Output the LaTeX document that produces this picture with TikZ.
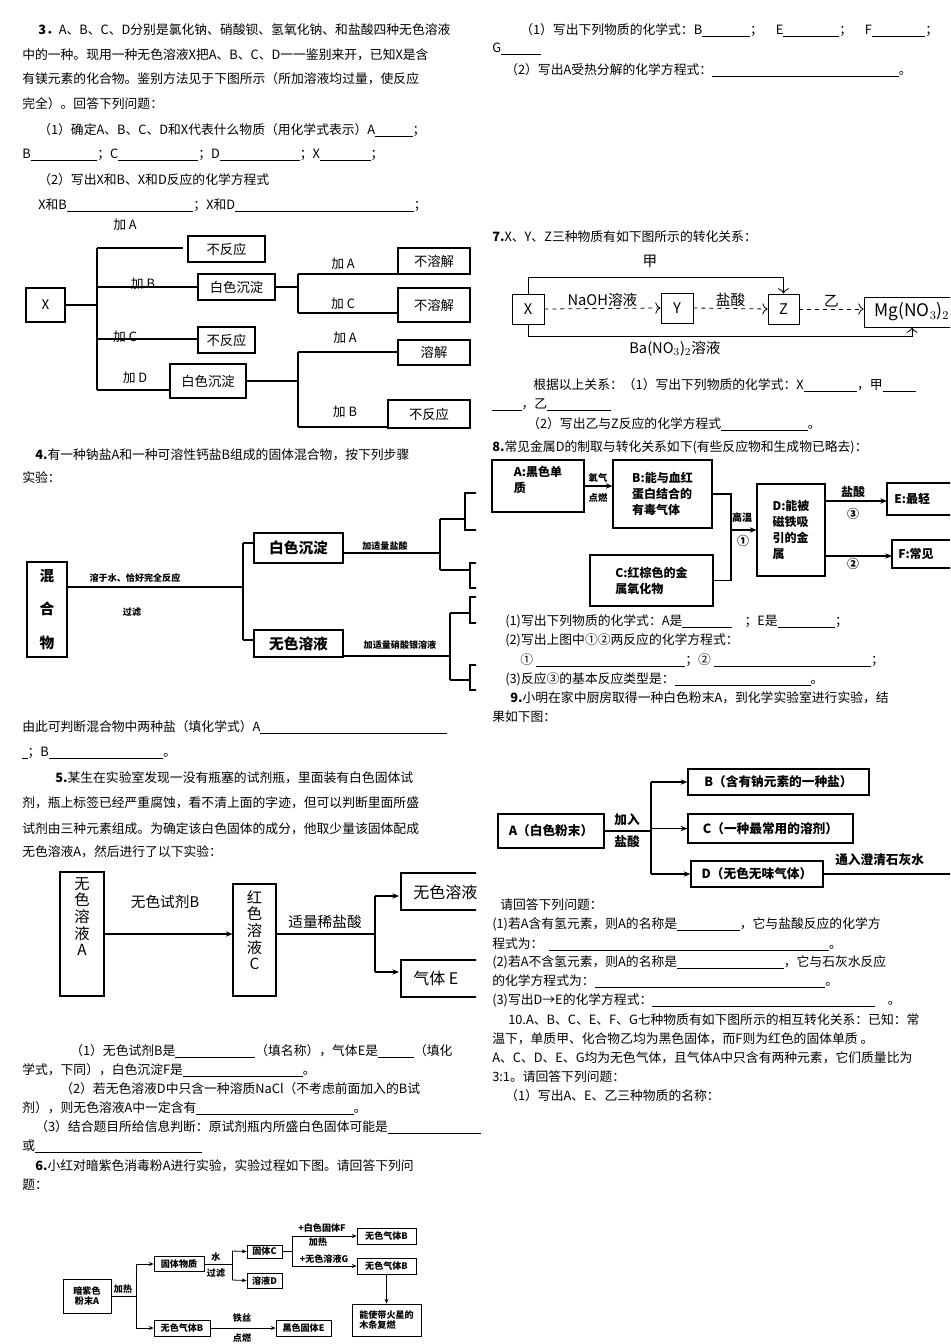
\documentclass[tikz,border=0pt]{standalone}
\usepackage{fontspec}
\setmainfont{Noto Sans CJK SC}
\usetikzlibrary{arrows.meta}
\newcommand\fs{\fontsize{9.6}{11}\selectfont}
\newcommand\fsd{\fontsize{6.8}{8}\selectfont}
\newcommand\bl[1]{\rule[-1.5pt]{#1pt}{0.5pt}}
\tikzset{
 txt/.style={anchor=west,inner sep=0pt,font=\fs},
 bx/.style={draw,line width=0.8pt,inner sep=1pt,align=center},
 lab/.style={inner sep=0pt,font=\fs},
 slab/.style={inner sep=0pt,font=\fsd\bfseries},
 ln/.style={line width=0.8pt},
 arr/.style={line width=0.8pt,-{Stealth[length=5pt,width=4pt]}},
 sarr/.style={line width=0.6pt,-{Stealth[length=3.5pt,width=3pt]}},
}
\begin{document}
\begin{tikzpicture}[x=0.75pt,y=-0.75pt]
\useasboundingbox (0,0) rectangle (950,1344);
\clip (0,0) rectangle (950,1344);
% ---------------- left column text
\node[txt] (t1) at (38,30) {\textbf{3．}A、B、C、D分别是氯化钠、硝酸钡、氢氧化钠、和盐酸四种无色溶液};
\node[txt] (t2) at (22,55) {中的一种。现用一种无色溶液X把A、B、C、D一一鉴别来开，已知X是含};
\node[txt] (t3) at (22,79) {有镁元素的化合物。鉴别方法见于下图所示（所加溶液均过量，使反应};
\node[txt] (t4) at (22,104) {完全）。回答下列问题：};
\node[txt] (t5) at (38,130) {（1）确定A、B、C、D和X代表什么物质（用化学式表示）A\bl{28}；};
\node[txt] (t6) at (22,155) {B\bl{50}；C\bl{60}；D\bl{60}；X\bl{38}；};
\node[txt] (t7) at (38,180) {（2）写出X和B、X和D反应的化学方程式};
\node[txt] (t8) at (38,205) {X和B\bl{95}；X和D\bl{134}；};
% ---------------- diagram 3
\begin{scope}
\clip (0,200) rectangle (476,440);
\node[bx,minimum width=57.75pt,minimum height=19.5pt] (n1) at (226.5,249) {不反应};
\node[bx,minimum width=57.75pt,minimum height=19.5pt] (n2) at (236.5,287) {白色沉淀};
\node[bx,minimum width=29.25pt,minimum height=25.5pt] (X3) at (45.5,305) {X};
\node[bx,minimum width=42.75pt,minimum height=19.5pt] (n3) at (226.5,340) {不反应};
\node[bx,minimum width=57pt,minimum height=25.5pt] (n4) at (208,381) {白色沉淀};
\node[bx,minimum width=54pt,minimum height=19.5pt] (r1) at (434,261) {不溶解};
\node[bx,minimum width=54pt,minimum height=25.5pt] (r2) at (434,305) {不溶解};
\node[bx,minimum width=54pt,minimum height=18.75pt] (r3) at (434,352.5) {溶解};
\node[bx,minimum width=61.5pt,minimum height=21pt] (r4) at (429,414) {不反应};
\draw[ln] (X3.east) -- (97,305);
\draw[ln] (97,248) -- (97,390);
\draw[ln] (97,248) -- (183,248);
\draw[ln] (97,287) -- (n2.west);
\draw[ln] (97,339) -- (n3.west |- 0,339);
\draw[ln] (97,390) -- (n4.west |- 0,390);
\draw[ln] (n2.east) -- (298,287);
\draw[ln] (298,274) -- (298,313);
\draw[ln] (298,274) -- (r1.west |- 0,274);
\draw[ln] (298,313) -- (r2.west |- 0,313);
\draw[ln] (n4.east) -- (298,381);
\draw[ln] (298,352) -- (298,427);
\draw[ln] (298,352) -- (r3.west |- 0,352);
\draw[ln] (298,427) -- (r4.west |- 0,427);
\node[lab] (la1) at (125,225) {加 A};
\node[lab] (la2) at (143,284) {加 B};
\node[lab] (la3) at (125,337) {加 C};
\node[lab] (la4) at (135,378) {加 D};
\node[lab] (la5) at (343,264) {加 A};
\node[lab] (la6) at (343,304) {加 C};
\node[lab] (la7) at (345,338) {加 A};
\node[lab] (la8) at (345,412) {加 B};
\end{scope}
% ---------------- problem 4
\node[txt] (t9) at (35,455) {\textbf{4.}有一种钠盐A和一种可溶性钙盐B组成的固体混合物，按下列步骤};
\node[txt] (t10) at (22,478) {实验：};
\begin{scope}
\clip (0,480) rectangle (476,700);
\node[bx,minimum width=30pt,minimum height=71.25pt,font=\fontsize{11}{25}\selectfont\bfseries] (mix) at (47,609.5) {混\\合\\物};
\node[bx,minimum width=66.75pt,minimum height=22.5pt,font=\fontsize{11}{13}\selectfont\bfseries] (wp) at (298.5,548) {白色沉淀};
\node[bx,minimum width=66.75pt,minimum height=20.25pt,font=\fontsize{11}{13}\selectfont\bfseries] (ws) at (298.5,643.5) {无色溶液};
\draw[ln] (mix.east |- 0,587) -- (243,587);
\draw[ln] (243,543) -- (243,640);
\draw[ln] (243,543) -- (wp.west |- 0,543);
\draw[ln] (243,640) -- (ws.west |- 0,640);
\node[slab] (l41) at (135,578) {溶于水、恰好完全反应};
\node[slab] (l42) at (132,612) {过滤};
\node[slab] (l43) at (385,546) {加适量盐酸};
\node[slab] (l44) at (400,645) {加适量硝酸银溶液};
\draw[ln] (wp.east |- 0,553) -- (440,553);
\draw[ln] (440,519) -- (440,570);
\draw[ln] (440,519) -- (465,519);
\draw[ln] (440,570) -- (470,570);
\draw[ln] (ws.east |- 0,656) -- (450,656);
\draw[ln] (450,613) -- (450,680);
\draw[ln] (450,613) -- (470,613);
\draw[ln] (450,680) -- (470,680);
\draw[ln] (465,493) rectangle (490,530);
\draw[ln] (470,563) rectangle (490,588);
\draw[ln] (470,597) rectangle (490,623);
\draw[ln] (470,665) rectangle (490,690);
\end{scope}
\node[txt] (t11) at (22,727) {由此可判断混合物中两种盐（填化学式）A\bl{140}};
\node[txt] (t12) at (22,753) {\bl{4}；B\bl{86}。};
\node[txt] (t13) at (55,778) {\textbf{5.}某生在实验室发现一没有瓶塞的试剂瓶，里面装有白色固体试};
\node[txt] (t14) at (22,803) {剂，瓶上标签已经严重腐蚀，看不清上面的字迹，但可以判断里面所盛};
\node[txt] (t15) at (22,829) {试剂由三种元素组成。为确定该白色固体的成分，他取少量该固体配成};
\node[txt] (t16) at (22,852) {无色溶液A，然后进行了以下实验：};
% ---------------- diagram 5
\begin{scope}
\clip (0,860) rectangle (476,1010);
\node[bx,minimum width=33pt,minimum height=93pt] (A5) at (82,934) {};
\node[inner sep=0,anchor=north,align=center,font=\fontsize{11.5}{12.5}\selectfont] (A5t) at (82,877) {无\\色\\溶\\液\\A};
\node[bx,minimum width=32.25pt,minimum height=84pt] (C5) at (254.5,940) {};
\node[inner sep=0,anchor=north,align=center,font=\fontsize{11.5}{12.5}\selectfont] (C5t) at (254.5,890) {红\\色\\溶\\液\\C};
\draw[arr] (A5.east |- 0,934) -- (C5.west |- 0,934);
\node[lab,font=\fontsize{11}{13}\selectfont] (l51) at (165,902) {无色试剂B};
\draw[ln] (C5.east |- 0,934) -- (375,934);
\node[lab,font=\fontsize{11}{13}\selectfont] (l52) at (325,922) {适量稀盐酸};
\draw[ln] (375,896) -- (375,972);
\draw[arr] (375,896) -- (399,896);
\draw[arr] (375,972) -- (399,972);
\draw[ln] (401,873) rectangle (500,910);
\draw[ln] (401,960) rectangle (500,997);
\node[txt,font=\fontsize{12}{14}\selectfont] (s1) at (413,892) {无色溶液};
\node[txt,font=\fontsize{12}{14}\selectfont] (s2) at (413,978) {气体 E};
\end{scope}
\node[txt] (t17) at (70,1051) {（1）无色试剂B是\bl{60}（填名称），气体E是\bl{27}（填化};
\node[txt] (t18) at (22,1070) {学式，下同），白色沉淀F是\bl{90}。};
\node[txt] (t19) at (60,1089) {（2）若无色溶液D中只含一种溶质NaCl（不考虑前面加入的B试};
\node[txt] (t20) at (22,1108) {剂），则无色溶液A中一定含有\bl{118}。};
\node[txt] (t21) at (35,1127) {（3）结合题目所给信息判断：原试剂瓶内所盛白色固体可能是\bl{70}};
\node[txt] (t22) at (22,1146) {或\bl{125}};
\node[txt] (t23) at (35,1166) {\textbf{6.}小红对暗紫色消毒粉A进行实验，实验过程如下图。请回答下列问};
\node[txt] (t24) at (22,1185) {题：};
% ---------------- diagram 6
\begin{scope}[every node/.append style={font=\fsd\bfseries}]
\node[bx,line width=0.6pt,minimum width=36pt,minimum height=25.5pt] (am) at (87,1296) {暗紫色\\粉末A};
\node[bx,line width=0.6pt,minimum width=37.5pt,minimum height=11.25pt] (gt) at (179,1263.5) {固体物质};
\node[bx,line width=0.6pt,minimum width=26.25pt,minimum height=9.75pt] (gc) at (264.5,1251.5) {固体C};
\node[bx,line width=0.6pt,minimum width=26.25pt,minimum height=11.25pt] (yd) at (264.5,1280.5) {溶液D};
\node[bx,line width=0.6pt,minimum width=44.25pt,minimum height=12pt] (b1) at (386.5,1236) {无色气体B};
\node[bx,line width=0.6pt,minimum width=44.25pt,minimum height=12pt] (b2) at (386.5,1266) {无色气体B};
\node[bx,line width=0.6pt,minimum width=51.75pt,minimum height=24pt,align=left] (fire) at (386.5,1320) {能使带火星的\\木条复燃};
\node[bx,line width=0.6pt,minimum width=42pt,minimum height=12pt] (b3) at (182,1328) {无色气体B};
\node[bx,line width=0.6pt,minimum width=41.25pt,minimum height=12pt] (be) at (303.5,1328) {黑色固体E};
\draw[line width=0.6pt] (am.east) -- (136,1296);
\draw[line width=0.6pt] (136,1264) -- (136,1328);
\draw[sarr] (136,1264) -- (gt.west |- 0,1264);
\draw[sarr] (136,1328) -- (b3.west);
\node[slab] (l61) at (123,1289) {加热};
\draw[line width=0.6pt] (gt.east |- 0,1264) -- (232,1264);
\draw[line width=0.6pt] (232,1251) -- (232,1280);
\draw[sarr] (232,1251) -- (gc.west);
\draw[sarr] (232,1280) -- (yd.west);
\node[slab] (l62) at (216,1257) {水};
\node[slab] (l63) at (216,1273) {过滤};
\draw[line width=0.6pt] (gc.east) -- (292,1251.5);
\draw[line width=0.6pt] (292,1236) -- (292,1266);
\draw[sarr] (292,1236) -- (b1.west);
\draw[sarr] (292,1266) -- (b2.west);
\node[slab] (l64) at (322,1228) {+白色固体F};
\node[slab] (l65) at (318,1242) {加热};
\node[slab] (l66) at (324,1259) {+无色溶液G};
\draw[sarr] (b2.south) -- (fire.north);
\draw[sarr] (b3.east) -- (be.west);
\node[slab] (l67) at (242,1318) {铁丝};
\node[slab] (l68) at (242,1338) {点燃};
\end{scope}
% ---------------- right column top
\node[txt] (u1) at (520,30) {（1）写出下列物质的化学式：B\bl{36}；　E\bl{42}；　F\bl{40}；};
\node[txt] (u2) at (492,49) {G\bl{30}};
\node[txt] (u3) at (505,70) {（2）写出A受热分解的化学方程式：\bl{140}。};
% ---------------- problem 7
\node[txt] (u4) at (492,237) {\textbf{7.}X、Y、Z三种物质有如下图所示的转化关系：};
\begin{scope}[every node/.append style={font=\fontsize{11}{13}\selectfont}]
\node[bx,line width=0.6pt,minimum width=24pt,minimum height=22.5pt] (X7) at (528,309) {X};
\node[bx,line width=0.6pt,minimum width=24pt,minimum height=22.5pt] (Y7) at (677,308) {Y};
\node[bx,line width=0.6pt,minimum width=23.25pt,minimum height=22.5pt] (Z7) at (783.5,309) {Z};
\node[bx,line width=0.6pt,minimum width=72pt,minimum height=22.5pt,font=\fontsize{13}{15}\selectfont] (Mg) at (912,312) {Mg(NO$_3$)$_2$};
\coordinate (tp) at (783.5,277);
\coordinate (bt) at (912,336);
\draw[line width=0.6pt,-{To[length=4pt]}] (X7.north) |- (tp) -- (Z7.north);
\draw[line width=0.6pt,-{To[length=4pt]}] (X7.south) |- (bt) -- (Mg.south);
\draw[line width=0.6pt,dashed,-{To[length=4pt]}] (X7.east) -- node[above=0pt,inner sep=1pt] (l71) {NaOH溶液} (Y7.west);
\draw[line width=0.6pt,dashed,-{To[length=4pt]}] (Y7.east) -- node[above=0pt,inner sep=1pt] (l72) {盐酸} (Z7.west);
\draw[line width=0.6pt,dashed,-{To[length=4pt]}] (Z7.east) -- node[above=0pt,inner sep=1pt] (l73) {乙} (Mg.west |- Z7.east);
\node[inner sep=0] (l74) at (650,261) {甲};
\node[inner sep=0] (l75) at (675,349) {Ba(NO$_3$)$_2$溶液};
\end{scope}
\node[txt] (u5) at (533,385) {根据以上关系：（1）写出下列物质的化学式：X\bl{40}，甲\bl{25}};
\node[txt] (u6) at (492,405) {\bl{22}，乙\bl{48}};
\node[txt] (u7) at (527,424) {（2）写出乙与Z反应的化学方程式\bl{65}。};
% ---------------- problem 8
\node[txt] (u8) at (492,447) {\textbf{8.}常见金属D的制取与转化关系如下(有些反应物和生成物已略去)：};
\begin{scope}[every node/.append style={font=\fontsize{9}{12}\selectfont\bfseries}]
\node[bx,minimum width=69pt,minimum height=39pt,align=left] (A8) at (538,486) {A:黑色单\\质\\[-2pt]};
\node[bx,minimum width=74.25pt,minimum height=51pt,align=left] (B8) at (662.5,494) {B:能与血红\\蛋白结合的\\有毒气体};
\node[bx,minimum width=92.25pt,minimum height=38.25pt,align=left] (C8) at (651.5,580.5) {C:红棕色的金\\属氧化物};
\node[bx,minimum width=51pt,minimum height=69pt,align=left] (D8) at (791,530) {D:能被\\磁铁吸\\引的金\\属};
\draw[line width=0.8pt] (887,483) rectangle (990,515);
\node[txt,font=\fontsize{9}{12}\selectfont\bfseries] (E8) at (894,499) {E:最轻};
\draw[line width=0.8pt] (892,540) rectangle (990,568);
\node[txt,font=\fontsize{9}{12}\selectfont\bfseries] (F8) at (898,554) {F:常见};
\draw[arr] (A8.east) -- (B8.west |- A8.east);
\node[inner sep=0,font=\fontsize{7}{8}\selectfont\bfseries] (l81) at (598,478) {氧气};
\node[inner sep=0,font=\fontsize{7}{8}\selectfont\bfseries] (l82) at (598,498) {点燃};
\coordinate (j8) at (731,530);
\draw[ln] (B8.east) -| (j8);
\draw[ln] (C8.east) -| (j8);
\draw[arr] (j8) -- (D8.west);
\node[inner sep=0,font=\fontsize{7.5}{8}\selectfont\bfseries] (l83) at (742,518) {高温};
\node[inner sep=0] (l84) at (743,541) {①};
\draw[arr] (D8.east |- 0,501) -- (887,501);
\draw[arr] (D8.east |- 0,556) -- (892,556);
\node[inner sep=0] (l85) at (853,492) {盐酸};
\node[inner sep=0] (l86) at (853,514) {③};
\node[inner sep=0] (l87) at (853,564) {②};
\end{scope}
\node[txt] (u9) at (505,621) {(1)写出下列物质的化学式：A是\bl{37}　；E是\bl{43}；};
\node[txt] (u10) at (505,640) {(2)写出上图中①②两反应的化学方程式：};
\node[txt] (u11) at (520,660) {①\ \bl{112}；②\ \bl{118}；};
\node[txt] (u12) at (505,679) {(3)反应③的基本反应类型是：\bl{102}。};
\node[txt] (u13) at (510,698) {\textbf{9.}小明在家中厨房取得一种白色粉末A，到化学实验室进行实验，结};
\node[txt] (u14) at (492,717) {果如下图：};
% ---------------- diagram 9
\begin{scope}[every node/.append style={font=\fontsize{9.5}{12}\selectfont\bfseries}]
\node[bx,line width=1pt,minimum width=135.75pt,minimum height=19.5pt] (B9) at (778.5,782) {B（含有钠元素的一种盐）};
\node[bx,line width=1pt,minimum width=79.5pt,minimum height=25.5pt] (A9) at (551,831) {A（白色粉末）};
\node[bx,line width=1pt,minimum width=123.75pt,minimum height=21.75pt] (C9) at (770.5,828.5) {C（一种最常用的溶剂）};
\node[bx,line width=1pt,minimum width=99pt,minimum height=19.5pt] (D9) at (757,874) {D（无色无味气体）};
\draw[line width=1pt] (A9.east) -- (651,831);
\draw[line width=1pt] (651,782) -- (651,874);
\draw[arr,line width=1pt] (651,782) -- (B9.west);
\draw[arr,line width=1pt] (651,828.5) -- (C9.west);
\draw[arr,line width=1pt] (651,874) -- (D9.west);
\coordinate (e9) at (960,874);
\draw[arr,line width=1pt] (D9.east) -- (e9);
\node[inner sep=0] (l91) at (627,820) {加入};
\node[inner sep=0] (l92) at (627,842) {盐酸};
\node[inner sep=0,anchor=west] (l93) at (835,860) {通入澄清石灰水};
\end{scope}
\node[txt] (u15) at (500,905) {请回答下列问题：};
\node[txt] (u16) at (492,924) {(1)若A含有氢元素，则A的名称是\bl{47}，它与盐酸反应的化学方};
\node[txt] (u17) at (492,944) {程式为：\ \ \bl{210}。};
\node[txt] (u18) at (492,962) {(2)若A不含氢元素，则A的名称是\bl{80}，它与石灰水反应};
\node[txt] (u19) at (492,981) {的化学方程式为：\bl{173}。};
\node[txt] (u20) at (492,1000) {(3)写出D→E的化学方程式：\bl{167}\quad 。};
\node[txt] (u21) at (508,1020) {10.A、B、C、E、F、G七种物质有如下图所示的相互转化关系：已知：常};
\node[txt] (u22) at (492,1039) {温下，单质甲、化合物乙均为黑色固体，而F则为红色的固体单质 。};
\node[txt] (u23) at (492,1058) {A、C、D、E、G均为无色气体，且气体A中只含有两种元素，它们质量比为};
\node[txt] (u24) at (492,1077) {3:1。请回答下列问题：};
\node[txt] (u25) at (505,1096) {（1）写出A、E、乙三种物质的名称：};
\end{tikzpicture}
\end{document}
